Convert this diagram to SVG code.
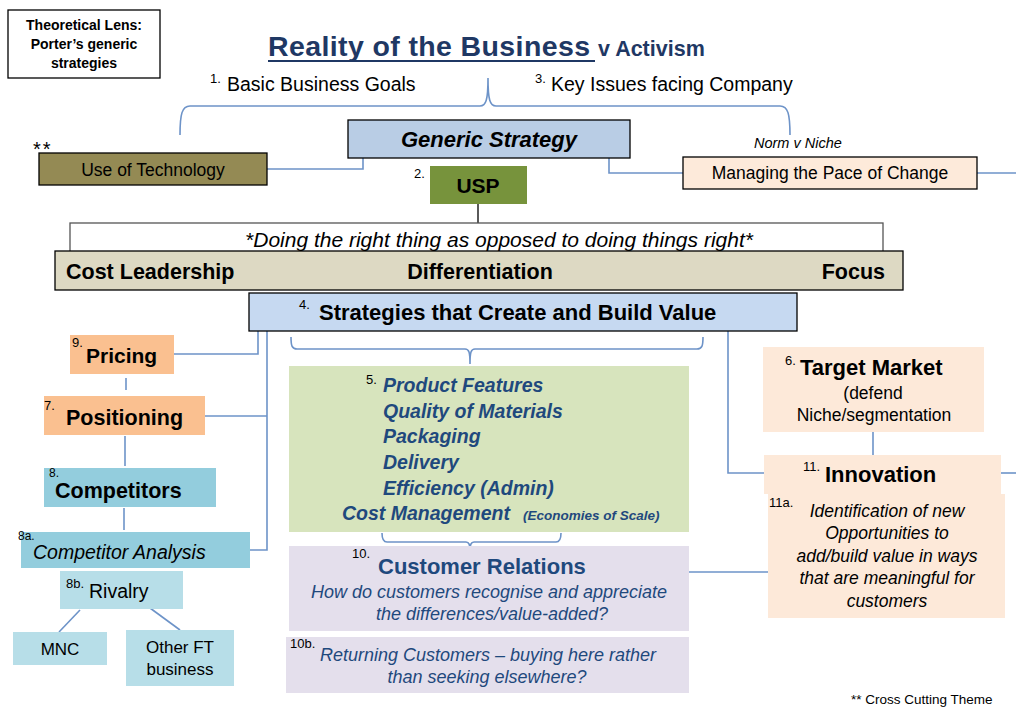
<svg xmlns="http://www.w3.org/2000/svg" width="1016" height="708" viewBox="0 0 1016 708">
<style>
text{font-family:"Liberation Sans",Arial,sans-serif;fill:#000}
.b{font-weight:bold}
.i{font-style:italic}
.sup{font-size:13px}
.c{text-anchor:middle}
.navy{fill:#1F497D}
.ln{fill:none;stroke:#6D93C8;stroke-width:1.6}
.bk{stroke:#000;stroke-width:1.3}
</style>
<rect width="1016" height="708" fill="#fff"/>

<g id="connectors">
  <path class="ln" d="M180,135 C180,114 182,106 190,106 L480,106 C486,106 488,100 488,78 C488,100 490,106 496,106 L780,106 C788,106 790,114 790,135"/>
  <path class="ln" d="M267,169 L363,169 L363,158"/>
  <path class="ln" d="M609,158 L609,173 L683,173"/>
  <path class="ln" d="M977,173 L1016,173"/>
  <path d="M478,204 L478,223" stroke="#000" stroke-width="1.3" fill="none"/>
  <path class="ln" d="M291,337 C291,346 292,349 297,349 L465,349 C469,349 470,352 470,364 C470,352 471,349 475,349 L697,349 C702,349 703,346 703,337"/>
  <path class="ln" d="M382,533 C382,539 383,542 387,542 L466,542 C469,542 470,544 470,553 C470,544 471,542 474,542 L556,542 C560,542 561,539 561,533"/>
  <path class="ln" d="M258,331 L258,354 L174,354"/>
  <path class="ln" d="M267,331 L267,550 L250,550"/>
  <path class="ln" d="M267,416 L205,416"/>
  <path class="ln" d="M126,378 L126,390"/>
  <path class="ln" d="M125,436 L125,466"/>
  <path class="ln" d="M124,508 L124,530"/>
  <path class="ln" d="M80,610 L59,632"/>
  <path class="ln" d="M150,608 L180,630"/>
  <path class="ln" d="M728,331 L728,473 L764,473"/>
  <path class="ln" d="M873,432 L873,455"/>
  <path class="ln" d="M1001,473 L1016,473"/>
  <path class="ln" d="M689,572 L768,572"/>
</g>

<g id="lens">
  <rect x="8" y="10" width="152" height="68" fill="#fff" class="bk"/>
  <text class="b c" x="84" y="30" font-size="14">Theoretical Lens:</text>
  <text class="b c" x="84" y="49" font-size="14">Porter’s generic</text>
  <text class="b c" x="84" y="68" font-size="14">strategies</text>
</g>

<g id="title">
  <text class="b" x="268" y="56" font-size="28.5" style="fill:#1F3864" textLength="322">Reality of the Business</text>
  <line x1="268" y1="61" x2="595" y2="61" stroke="#1F3864" stroke-width="2"/>
  <text class="b" x="598" y="56" font-size="21.5" style="fill:#1F3864">v Activism</text>
</g>

<g id="goals">
  <text class="sup" x="210" y="83">1.</text>
  <text x="227" y="91" font-size="19.5">Basic Business Goals</text>
</g>
<g id="issues">
  <text class="sup" x="535" y="83">3.</text>
  <text x="551" y="91" font-size="19.5">Key Issues facing Company</text>
</g>

<g id="generic-strategy">
  <rect x="348" y="120" width="282" height="38" fill="#B9CDE5" class="bk"/>
  <text class="b i c" x="489" y="147" font-size="22">Generic Strategy</text>
</g>

<g id="use-of-technology">
  <text x="33" y="156" font-size="20" letter-spacing="2">**</text>
  <rect x="39" y="153" width="228" height="32" fill="#948A54" class="bk"/>
  <text class="c" x="153" y="176" font-size="17.5">Use of Technology</text>
</g>

<g id="pace-of-change">
  <text class="i" x="754" y="148" font-size="14.5">Norm v Niche</text>
  <rect x="683" y="157" width="294" height="32" fill="#FDEADA" class="bk"/>
  <text class="c" x="830" y="179" font-size="17.5">Managing the Pace of Change</text>
</g>

<g id="usp">
  <text class="sup" x="414" y="178">2.</text>
  <rect x="430" y="166" width="97" height="38" fill="#77933C"/>
  <text class="b c" x="478" y="193" font-size="21">USP</text>
</g>

<g id="right-thing">
  <rect x="70" y="223" width="813" height="30" fill="#fff" stroke="#555" stroke-width="1.3"/>
  <text class="i c" x="499" y="247" font-size="21">*Doing the right thing as opposed to doing things right*</text>
</g>

<g id="generic-band">
  <rect x="55" y="251" width="848" height="39" fill="#DDD9C3" class="bk"/>
  <text class="b" x="66" y="279" font-size="21.5">Cost Leadership</text>
  <text class="b c" x="480" y="279" font-size="21.5">Differentiation</text>
  <text class="b" x="885" y="279" font-size="21.5" text-anchor="end">Focus</text>
</g>

<g id="strategies">
  <rect x="249" y="293" width="548" height="38" fill="#C6D9F1" class="bk"/>
  <text class="sup" x="299" y="309">4.</text>
  <text class="b" x="319" y="320" font-size="22">Strategies that Create and Build Value</text>
</g>

<g id="pricing">
  <rect x="70" y="335" width="104" height="39" fill="#FAC090"/>
  <text class="sup" x="72" y="347">9.</text>
  <text class="b" x="86" y="363" font-size="21">Pricing</text>
</g>

<g id="positioning">
  <rect x="44" y="396" width="161" height="39" fill="#FAC090"/>
  <text class="sup" x="44" y="410">7.</text>
  <text class="b" x="66" y="425" font-size="21.5">Positioning</text>
</g>

<g id="competitors">
  <rect x="44" y="468" width="172" height="39" fill="#93CDDD"/>
  <text x="49" y="477" font-size="12">8.</text>
  <text class="b" x="55" y="498" font-size="21.5">Competitors</text>
</g>

<g id="competitor-analysis">
  <rect x="21" y="532" width="229" height="36" fill="#93CDDD"/>
  <text x="18" y="540" font-size="12">8a.</text>
  <text class="i" x="33" y="559" font-size="19.5">Competitor Analysis</text>
</g>

<g id="rivalry">
  <rect x="60" y="571" width="123" height="38" fill="#B7DEE8"/>
  <text class="sup" x="66" y="588">8b.</text>
  <text x="89" y="598" font-size="19.5">Rivalry</text>
</g>

<g id="mnc">
  <rect x="13" y="632" width="94" height="33" fill="#B7DEE8"/>
  <text class="c" x="60" y="655" font-size="17">MNC</text>
</g>

<g id="other-ft">
  <rect x="126" y="630" width="108" height="56" fill="#B7DEE8"/>
  <text class="c" x="180" y="653" font-size="17">Other FT</text>
  <text class="c" x="180" y="675" font-size="17">business</text>
</g>

<g id="value-items">
  <rect x="289" y="366" width="400" height="166" fill="#D7E4BD"/>
  <text class="sup" x="366" y="384">5.</text>
  <text class="b i navy" x="383" y="392" font-size="19.5">Product Features</text>
  <text class="b i navy" x="383" y="418" font-size="19.5">Quality of Materials</text>
  <text class="b i navy" x="383" y="443" font-size="19.5">Packaging</text>
  <text class="b i navy" x="383" y="469" font-size="19.5">Delivery</text>
  <text class="b i navy" x="383" y="495" font-size="19.5">Efficiency (Admin)</text>
  <text class="b i navy" x="342" y="520" font-size="19.5">Cost Management</text>
  <text class="b i navy" x="523" y="520" font-size="13.5">(Economies of Scale)</text>
</g>

<g id="customer-relations">
  <rect x="289" y="546" width="400" height="85" fill="#E4DFEC"/>
  <text class="sup" x="352" y="558">10.</text>
  <text class="b navy" x="378" y="574" font-size="22">Customer Relations</text>
  <text class="i navy c" x="489" y="598" font-size="18">How do customers recognise and appreciate</text>
  <text class="i navy c" x="492" y="620" font-size="18">the differences/value-added?</text>
</g>

<g id="returning-customers">
  <rect x="286" y="637" width="403" height="56" fill="#E4DFEC"/>
  <text class="sup" x="290" y="648">10b.</text>
  <text class="i navy c" x="488" y="661" font-size="18">Returning Customers – buying here rather</text>
  <text class="i navy c" x="487" y="683" font-size="18">than seeking elsewhere?</text>
</g>

<g id="target-market">
  <rect x="763" y="347" width="221" height="85" fill="#FDE9D9"/>
  <text class="sup" x="785" y="365">6.</text>
  <text class="b" x="800" y="375" font-size="22">Target Market</text>
  <text class="c" x="873" y="399" font-size="17.5">(defend</text>
  <text class="c" x="874" y="421" font-size="17.5">Niche/segmentation</text>
</g>

<g id="innovation">
  <rect x="764" y="455" width="237" height="39" fill="#FDE9D9"/>
  <text class="sup" x="803" y="471">11.</text>
  <text class="b" x="825" y="482" font-size="22">Innovation</text>
</g>

<g id="opportunities">
  <rect x="768" y="494" width="237" height="124" fill="#FDE9D9"/>
  <text class="sup" x="769" y="507">11a.</text>
  <text class="i c" x="887" y="517" font-size="17.5">Identification of new</text>
  <text class="i c" x="887" y="539" font-size="17.5">Opportunities to</text>
  <text class="i c" x="887" y="562" font-size="17.5">add/build value in ways</text>
  <text class="i c" x="887" y="584" font-size="17.5">that are meaningful for</text>
  <text class="i c" x="887" y="607" font-size="17.5">customers</text>
</g>

<text x="851" y="704" font-size="13.5">** Cross Cutting Theme</text>
</svg>
